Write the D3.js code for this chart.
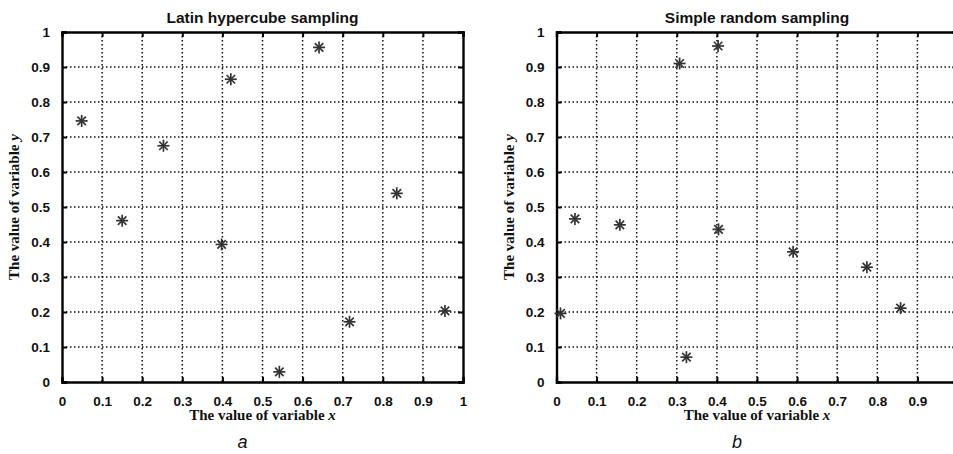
<!DOCTYPE html>
<html>
<head>
<meta charset="utf-8">
<title>Latin hypercube vs simple random sampling</title>
<script src="https://cdn.jsdelivr.net/npm/d3@7"></script>
<style>
  body { margin: 0; background: #fff; }
  svg { display: block; }
</style>
</head>
<body>
<svg id="chart"></svg>
<script>
// sample points
var lhsX = [0.049, 0.150, 0.253, 0.398, 0.421, 0.542, 0.641, 0.717, 0.835, 0.955];
var lhsY = [0.746, 0.461, 0.675, 0.393, 0.865, 0.029, 0.956, 0.172, 0.539, 0.203];
var srsX = [0.010, 0.046, 0.158, 0.307, 0.324, 0.403, 0.404, 0.590, 0.774, 0.858];
var srsY = [0.196, 0.466, 0.449, 0.910, 0.071, 0.960, 0.436, 0.372, 0.328, 0.211];
var tickValues = [0, 0.1, 0.2, 0.3, 0.4, 0.5, 0.6, 0.7, 0.8, 0.9, 1];
var titles = ["Latin hypercube sampling", "Simple random sampling"];
var panelLetters = ["a", "b"];

var width = 953, height = 454;
var svg = d3.select("#chart").attr("width", width).attr("height", height);
svg.append("rect").attr("width", width).attr("height", height).attr("fill", "#fff");

function tickFmt(d) {
  return d === 0 ? "0" : d === 1 ? "1" : d3.format(".1f")(d);
}

function drawPanel(left, xs, ys, title, letter) {
  var plotW = 401, plotH = 350, top = 32;
  var x = d3.scaleLinear().domain([0, 1]).range([left, left + plotW]);
  var y = d3.scaleLinear().domain([0, 1]).range([top + plotH, top]);
  var g = svg.append("g");

  // dotted grid
  g.selectAll(".vgrid")
    .data(tickValues.slice(1, -1))
    .enter()
    .append("line")
    .attr("x1", function (d) { return x(d); })
    .attr("x2", function (d) { return x(d); })
    .attr("y1", top)
    .attr("y2", top + plotH)
    .attr("stroke", "#111")
    .attr("stroke-width", 1.5)
    .attr("stroke-dasharray", "1.5,2.5");
  g.selectAll(".hgrid")
    .data(tickValues.slice(1, -1))
    .enter()
    .append("line")
    .attr("y1", function (d) { return y(d); })
    .attr("y2", function (d) { return y(d); })
    .attr("x1", left)
    .attr("x2", left + plotW)
    .attr("stroke", "#111")
    .attr("stroke-width", 1.5)
    .attr("stroke-dasharray", "1.5,2.5");

  // axes: ticks point inward, box all round
  var bottomAxis = d3.axisBottom(x).tickValues(tickValues).tickSize(-5).tickPadding(14).tickFormat(tickFmt);
  var leftAxis = d3.axisLeft(y).tickValues(tickValues).tickSize(-5).tickPadding(12).tickFormat(tickFmt);
  var topAxis = d3.axisTop(x).tickValues(tickValues).tickSize(-5).tickFormat("");
  var rightAxis = d3.axisRight(y).tickValues(tickValues).tickSize(-5).tickFormat("");

  var axes = [
    g.append("g").attr("transform", "translate(0," + (top + plotH) + ")").call(bottomAxis),
    g.append("g").attr("transform", "translate(" + left + ",0)").call(leftAxis),
    g.append("g").attr("transform", "translate(0," + top + ")").call(topAxis),
    g.append("g").attr("transform", "translate(" + (left + plotW) + ",0)").call(rightAxis)
  ];
  axes.forEach(function (a) {
    a.select(".domain").attr("stroke", "#000").attr("stroke-width", 2.4);
    a.selectAll(".tick line").attr("stroke", "#000").attr("stroke-width", 2);
    a.selectAll(".tick text")
      .attr("fill", "#111")
      .style("font-family", "'Liberation Sans', Arial, sans-serif")
      .style("font-size", "13.5px")
      .style("font-weight", "bold");
  });

  // asterisk markers (MATLAB '*')
  var pts = xs.map(function (v, i) { return [v, ys[i]]; });
  var r = 6;
  var star = g.selectAll(".pt")
    .data(pts)
    .enter()
    .append("g")
    .attr("transform", function (d) { return "translate(" + x(d[0]) + "," + y(d[1]) + ")"; });
  [0, 45, 90, 135].forEach(function (a) {
    var rad = a * Math.PI / 180;
    star.append("line")
      .attr("x1", -r * Math.cos(rad)).attr("y1", -r * Math.sin(rad))
      .attr("x2", r * Math.cos(rad)).attr("y2", r * Math.sin(rad))
      .attr("stroke", "#333")
      .attr("stroke-width", 1.7);
  });

  // title
  g.append("text")
    .attr("x", left + plotW / 2)
    .attr("y", 23)
    .attr("text-anchor", "middle")
    .style("font-family", "'Liberation Sans', Arial, sans-serif")
    .style("font-size", "15.5px")
    .style("font-weight", "bold")
    .attr("fill", "#111")
    .text(title);

  // axis labels
  var xl = g.append("text")
    .attr("x", left + plotW / 2)
    .attr("y", 420)
    .attr("text-anchor", "middle")
    .style("font-family", "'Liberation Serif', 'Times New Roman', serif")
    .style("font-size", "15px")
    .style("font-weight", "bold")
    .attr("fill", "#111");
  xl.append("tspan").text("The value of variable ");
  xl.append("tspan").style("font-style", "italic").text("x");

  var yl = g.append("text")
    .attr("transform", "translate(" + (left - 43) + "," + (top + plotH / 2) + ") rotate(-90)")
    .attr("text-anchor", "middle")
    .style("font-family", "'Liberation Serif', 'Times New Roman', serif")
    .style("font-size", "15px")
    .style("font-weight", "bold")
    .attr("fill", "#111");
  yl.append("tspan").text("The value of variable ");
  yl.append("tspan").style("font-style", "italic").text("y");

  // panel letter
  g.append("text")
    .attr("x", left + plotW / 2 - 20)
    .attr("y", 448)
    .attr("text-anchor", "middle")
    .style("font-family", "'Liberation Sans', Arial, sans-serif")
    .style("font-size", "18px")
    .style("font-style", "italic")
    .attr("fill", "#111")
    .text(letter);
}

drawPanel(62, lhsX, lhsY, titles[0], panelLetters[0]);
drawPanel(556.5, srsX, srsY, titles[1], panelLetters[1]);
</script>
</body>
</html>
